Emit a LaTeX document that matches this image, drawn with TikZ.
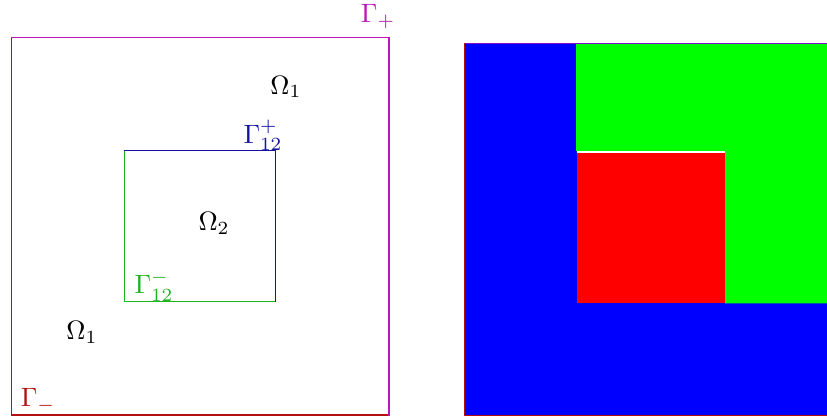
\documentclass[tikz,border=0pt]{standalone}
\usetikzlibrary{positioning}
\definecolor{gplus}{RGB}{190,20,190}
\definecolor{gminus}{RGB}{180,15,15}
\definecolor{gitop}{RGB}{20,20,160}
\definecolor{gibot}{RGB}{30,180,30}
\tikzset{
	bdry/.style={line width=0.4pt, line cap=rect}
}
\tikzset{
	lbl/.style={inner sep=1pt, font=\normalsize}
}

\begin{document}
\begin{tikzpicture}

			\useasboundingbox (-0.146,-0.013) rectangle (10.794,5.49);

			% left: the domain and its boundary pieces
			\begin{scope}
				\coordinate (oSW) at (0,0);
				\coordinate (oSE) at (5,0);
				\coordinate (oNE) at (5,5);
				\coordinate (oNW) at (0,5);

				\coordinate (iSW) at (1.5,1.5);
				\coordinate (iSE) at (3.5,1.5);
				\coordinate (iNE) at (3.5,3.5);
				\coordinate (iNW) at (1.5,3.5);

				\draw[bdry, gminus] (oNW) -- (oSW) -- (oSE);
				\draw[bdry, gplus] (oNW) -- (oNE) -- (oSE);
				\draw[bdry, gibot] (iNW) -- (iSW) -- (iSE);
				\draw[bdry, gitop] (iNW) -- (iNE) -- (iSE);

				\node[lbl, gplus] (gp) at (4.855,5.265) {$\Gamma_+$};
				\node[lbl, gminus] (gm) at (0.357,0.198) {$\Gamma_-$};
				\node[lbl, gitop] (gip) at (3.334,3.70) {$\Gamma_{12}^+$};
				\node[lbl, gibot] (gim) at (1.892,1.706) {$\Gamma_{12}^-$};

				\node[lbl] (om1a) at (3.638,4.34) {$\Omega_1$};
				\node[lbl] (om2) at (2.686,2.54) {$\Omega_2$};
				\node[lbl] (om1b) at (0.939,1.097) {$\Omega_1$};
			\end{scope}

			% right: the coloured subdomains
			\begin{scope}
				\clip (-0.146,-0.013) rectangle (10.794,5.49);

				\coordinate (rSW) at (6,0);
				\coordinate (rNE) at (10.92,4.92);

				\fill[blue] (rSW) rectangle (rNE);
				\fill[green] (7.476,4.92) -- (7.476,3.49) -- (9.444,3.49)
					-- (9.444,1.476) -- (10.92,1.476) -- (10.92,4.92) -- cycle;
				\fill[red] (7.49,1.476) rectangle (9.446,3.46);
				\fill[white] (7.49,3.46) rectangle (9.446,3.49);

				\draw[line width=0.3pt, gminus] (6,4.92) -- (rSW) -- (10.92,0);
				\draw[line width=0.3pt, gplus!70!blue] (6,4.92) -- (rNE);
			\end{scope}

		\end{tikzpicture}
\end{document}
